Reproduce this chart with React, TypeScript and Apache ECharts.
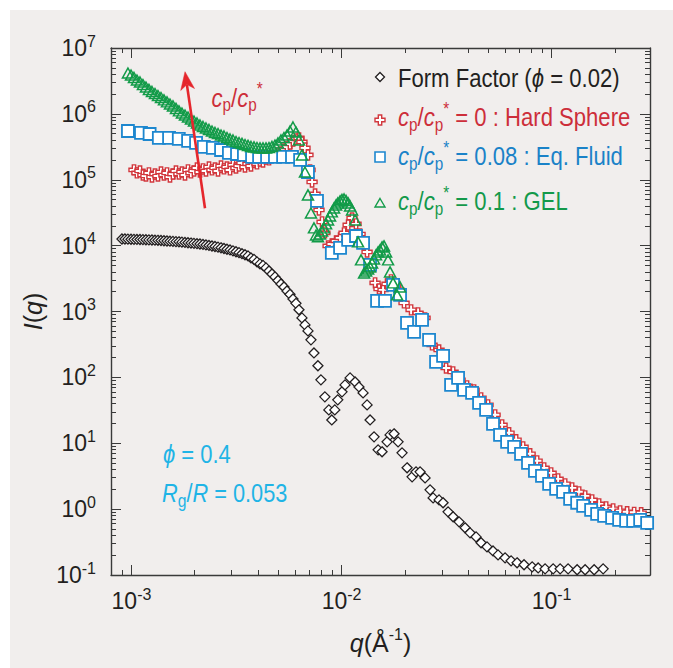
import { useEffect, useRef } from "react";
import * as echarts from "echarts";

// ---- data: [q (1/Å), I(q)] ----
const formFactor: [number, number][] = [
  [9.01e-4, 12600], [9.31e-4, 12600], [9.62e-4, 12550], [9.95e-4, 12500], [1.028e-3, 12450], [1.062e-3, 12420],
  [1.098e-3, 12400], [1.134e-3, 12340], [1.172e-3, 12280], [1.211e-3, 12220], [1.252e-3, 12160], [1.294e-3, 12100],
  [1.337e-3, 12040], [1.382e-3, 11950], [1.428e-3, 11860], [1.476e-3, 11770], [1.525e-3, 11680], [1.576e-3, 11590],
  [1.629e-3, 11500], [1.683e-3, 11420], [1.739e-3, 11300], [1.798e-3, 11180], [1.858e-3, 11060], [1.92e-3, 10940],
  [1.984e-3, 10820], [2.051e-3, 10700], [2.119e-3, 10600], [2.19e-3, 10420], [2.263e-3, 10240], [2.339e-3, 10060],
  [2.417e-3, 9880], [2.498e-3, 9700], [2.582e-3, 9480], [2.668e-3, 9260], [2.757e-3, 9040], [2.849e-3, 8820],
  [2.945e-3, 8600], [3.043e-3, 8330], [3.145e-3, 8080], [3.25e-3, 7820], [3.358e-3, 7540], [3.471e-3, 7260],
  [3.587e-3, 6980], [3.706e-3, 6500], [3.83e-3, 6180], [3.958e-3, 5660], [4.091e-3, 5280], [4.227e-3, 5010],
  [4.369e-3, 4590], [4.515e-3, 4130], [4.665e-3, 3720], [4.821e-3, 3350], [4.982e-3, 2960], [5.149e-3, 2620],
  [5.321e-3, 2360], [5.498e-3, 2050], [5.682e-3, 1820], [5.872e-3, 1550], [6.068e-3, 1330], [6.271e-3, 1060],
  [6.48e-3, 800], [6.697e-3, 626], [6.921e-3, 508], [7.152e-3, 371], [7.391e-3, 235], [7.719e-3, 150],
  [7.977e-3, 91.7], [8.331e-3, 50.6], [8.7e-3, 32.1], [8.987e-3, 22.6], [9.287e-3, 32.1], [9.597e-3, 45.6],
  [1.005e-2, 60.3], [1.039e-2, 76.9], [1.098e-2, 98.2], [1.16e-2, 85.3], [1.211e-2, 71.6], [1.266e-2, 58.1],
  [1.323e-2, 38.2], [1.367e-2, 22.6], [1.428e-2, 12.5], [1.493e-2, 7.94], [1.559e-2, 7.41], [1.647e-2, 10.5],
  [1.702e-2, 13.4], [1.778e-2, 13.9], [1.858e-2, 10.5], [1.941e-2, 7.15], [2.051e-2, 4.24], [2.167e-2, 3.09],
  [2.263e-2, 3.68], [2.365e-2, 3.68], [2.498e-2, 2.98], [2.639e-2, 1.96], [2.728e-2, 1.48], [2.912e-2, 1.38],
  [3.043e-2, 1.25], [3.215e-2, 0.909], [3.397e-2, 0.764], [3.627e-2, 0.641], [3.873e-2, 0.52], [4.091e-2, 0.436],
  [4.369e-2, 0.379], [4.615e-2, 0.308], [4.927e-2, 0.267], [5.261e-2, 0.232], [5.559e-2, 0.202], [6.005e-2, 0.182],
  [6.414e-2, 0.164], [6.848e-2, 0.153], [7.391e-2, 0.143], [8.081e-2, 0.133], [8.627e-2, 0.128], [9.31e-2, 0.124],
  [0.1017, 0.124], [0.1098, 0.124], [0.1198, 0.124], [0.1323, 0.12], [0.1444, 0.12], [0.1594, 0.12], [0.1759, 0.124],
];

const hardSphere: [number, number][] = [
  [1.028e-3, 1.41e5], [1.062e-3, 1.27e5], [1.098e-3, 1.36e5], [1.134e-3, 1.18e5], [1.172e-3, 1.14e5], [1.211e-3, 1.27e5],
  [1.252e-3, 1.1e5], [1.294e-3, 1.22e5], [1.337e-3, 1.14e5], [1.382e-3, 1.31e5], [1.428e-3, 1.18e5], [1.476e-3, 1.27e5],
  [1.525e-3, 1.1e5], [1.576e-3, 1.22e5], [1.629e-3, 1.36e5], [1.683e-3, 1.22e5], [1.739e-3, 1.31e5], [1.798e-3, 1.18e5],
  [1.858e-3, 1.41e5], [1.92e-3, 1.27e5], [1.984e-3, 1.36e5], [2.051e-3, 1.51e5], [2.119e-3, 1.31e5], [2.19e-3, 1.46e5],
  [2.263e-3, 1.36e5], [2.339e-3, 1.56e5], [2.417e-3, 1.41e5], [2.498e-3, 1.51e5], [2.582e-3, 1.36e5], [2.668e-3, 1.62e5],
  [2.757e-3, 1.46e5], [2.849e-3, 1.56e5], [2.945e-3, 1.41e5], [3.043e-3, 1.68e5], [3.145e-3, 1.51e5], [3.25e-3, 1.62e5],
  [3.358e-3, 1.8e5], [3.471e-3, 1.56e5], [3.587e-3, 1.74e5], [3.706e-3, 1.62e5], [3.83e-3, 1.86e5], [3.958e-3, 1.74e5],
  [4.091e-3, 1.93e5], [4.227e-3, 1.86e5], [4.369e-3, 2.07e5], [4.515e-3, 2.0e5], [4.665e-3, 2.22e5], [4.821e-3, 2.3e5],
  [4.982e-3, 2.55e5], [5.149e-3, 2.64e5], [5.321e-3, 2.93e5], [5.498e-3, 3.15e5], [5.682e-3, 3.49e5], [5.872e-3, 3.88e5],
  [6.068e-3, 4.16e5], [6.271e-3, 4.31e5], [6.48e-3, 3.75e5], [6.7e-3, 3.04e5], [6.92e-3, 2.38e5], [7.08e-3, 1.41e5],
  [7.24e-3, 9.26e4], [7.48e-3, 6.09e4], [7.81e-3, 3.48e4], [8.08e-3, 2.29e4], [8.33e-3, 1.56e4], [8.63e-3, 9.9e3],
  [8.99e-3, 1.06e4], [9.42e-3, 1.18e4], [9.84e-3, 1.31e4], [1.028e-2, 1.56e4], [1.075e-2, 2.06e4], [1.122e-2, 2.63e4],
  [1.172e-2, 2.14e4], [1.225e-2, 1.5e4], [1.28e-2, 1.02e4], [1.323e-2, 8.02e3], [1.382e-2, 4.59e3], [1.444e-2, 2.72e3],
  [1.508e-2, 2.2e3], [1.576e-2, 2.13e3], [1.647e-2, 2.62e3], [1.72e-2, 3.02e3], [1.798e-2, 2.53e3], [1.879e-2, 2.13e3],
  [1.984e-2, 1350], [2.143e-2, 1060], [2.314e-2, 952], [2.498e-2, 800], [2.698e-2, 311], [2.912e-2, 261],
  [3.145e-2, 139], [3.397e-2, 121], [3.667e-2, 91.6], [3.958e-2, 74.3], [4.275e-2, 64.6], [4.615e-2, 48.9],
  [4.982e-2, 38.2], [5.382e-2, 27.0], [5.811e-2, 19.0], [6.271e-2, 14.4], [6.776e-2, 11.3], [7.316e-2, 8.82],
  [7.9e-2, 6.91], [8.531e-2, 5.41], [9.211e-2, 4.23], [9.946e-2, 3.55], [0.1074, 2.88], [0.116, 2.42],
  [0.1252, 2.1], [0.1352, 1.83], [0.1444, 1.59], [0.1559, 1.38], [0.1683, 1.2], [0.1818, 1.08],
  [0.1963, 1.01], [0.2119, 0.942], [0.2288, 0.91], [0.2471, 0.894], [0.2668, 0.879],
];

const eqFluid: [number, number][] = [
  [9.62e-4, 5.5e5], [1.11e-3, 5.13e5], [1.22e-3, 4.95e5], [1.35e-3, 4.31e5], [1.51e-3, 4.31e5], [1.68e-3, 4.16e5],
  [1.86e-3, 3.88e5], [2.03e-3, 3.62e5], [2.21e-3, 3.15e5], [2.44e-3, 3.04e5], [2.67e-3, 2.83e5], [2.91e-3, 2.55e5],
  [3.18e-3, 2.46e5], [3.43e-3, 2.38e5], [3.75e-3, 2.22e5], [4.05e-3, 2.22e5], [4.42e-3, 2.22e5], [4.82e-3, 2.22e5],
  [5.27e-3, 2.22e5], [5.81e-3, 2.22e5], [6.35e-3, 2.0e5], [6.92e-3, 1.31e5], [7.64e-3, 4.77e4], [8.99e-3, 7.75e3],
  [9.84e-3, 9.23e3], [1.075e-2, 1.22e4], [1.172e-2, 1.4e4], [1.266e-2, 1.1e4], [1.367e-2, 5.09e3], [1.476e-2, 1.45e3],
  [1.611e-2, 1.45e3], [1.759e-2, 2.53e3], [1.899e-2, 1.79e3], [2.05e-2, 671], [2.214e-2, 490], [2.417e-2, 746],
  [2.61e-2, 371], [2.818e-2, 172], [3.043e-2, 212], [3.322e-2, 76.9], [3.587e-2, 98.3], [3.83e-2, 64.6],
  [4.182e-2, 58.2], [4.515e-2, 41.0], [4.876e-2, 32.1], [5.261e-2, 19.7], [5.682e-2, 13.4], [6.139e-2, 10.5],
  [6.629e-2, 8.82], [7.152e-2, 6.91], [7.72e-2, 5.04], [8.331e-2, 3.81], [9.0e-2, 3.2], [9.73e-2, 2.42],
  [0.1051, 2.03], [0.1134, 1.83], [0.1225, 1.43], [0.1323, 1.25], [0.1413, 1.12], [0.1542, 0.976],
  [0.1647, 0.849], [0.1778, 0.791], [0.1941, 0.738], [0.2096, 0.688], [0.2263, 0.665], [0.2444, 0.665],
  [0.2639, 0.688], [0.2849, 0.62],
];

const gel: [number, number][] = [
  [9.62e-4, 4.17e6], [9.95e-4, 3.89e6], [1.028e-3, 3.57e6], [1.062e-3, 3.27e6], [1.098e-3, 3.05e6], [1.134e-3, 2.79e6],
  [1.172e-3, 2.56e6], [1.211e-3, 2.35e6], [1.252e-3, 2.19e6], [1.294e-3, 2.04e6], [1.337e-3, 1.9e6], [1.382e-3, 1.77e6],
  [1.428e-3, 1.63e6], [1.476e-3, 1.52e6], [1.525e-3, 1.41e6], [1.576e-3, 1.32e6], [1.629e-3, 1.21e6], [1.683e-3, 1.11e6],
  [1.739e-3, 1.03e6], [1.798e-3, 9.62e5], [1.858e-3, 8.97e5], [1.92e-3, 8.37e5], [1.984e-3, 7.8e5], [2.051e-3, 7.28e5],
  [2.119e-3, 6.79e5], [2.19e-3, 6.44e5], [2.263e-3, 6.11e5], [2.339e-3, 5.8e5], [2.417e-3, 5.5e5], [2.498e-3, 5.22e5],
  [2.582e-3, 5.04e5], [2.668e-3, 4.78e5], [2.757e-3, 4.62e5], [2.849e-3, 4.38e5], [2.945e-3, 4.16e5], [3.043e-3, 4.02e5],
  [3.145e-3, 3.81e5], [3.25e-3, 3.68e5], [3.358e-3, 3.56e5], [3.471e-3, 3.43e5], [3.587e-3, 3.32e5], [3.706e-3, 3.2e5],
  [3.83e-3, 3.15e5], [3.958e-3, 3.09e5], [4.091e-3, 3.04e5], [4.227e-3, 3.04e5], [4.369e-3, 3.04e5], [4.515e-3, 3.09e5],
  [4.665e-3, 3.2e5], [4.821e-3, 3.37e5], [4.982e-3, 3.62e5], [5.149e-3, 4.02e5], [5.321e-3, 4.38e5], [5.498e-3, 4.78e5],
  [5.682e-3, 5.5e5], [5.872e-3, 6.33e5], [6.068e-3, 5.31e5], [6.271e-3, 4.02e5], [6.48e-3, 2.38e5], [6.697e-3, 1.31e5],
  [6.921e-3, 5.88e4], [7.152e-3, 3.13e4], [7.391e-3, 1.86e4], [7.56e-3, 1.45e4], [7.72e-3, 1.36e4], [7.9e-3, 1.5e4],
  [8.075e-3, 1.67e4], [8.254e-3, 1.86e4], [8.44e-3, 2.14e4], [8.625e-3, 2.45e4], [8.816e-3, 2.82e4], [8.99e-3, 3.25e4],
  [9.211e-3, 3.73e4], [9.416e-3, 4.15e4], [9.6e-3, 4.45e4], [9.837e-3, 4.77e4], [1.005e-2, 5.02e4], [1.028e-2, 5.11e4],
  [1.051e-2, 4.85e4], [1.075e-2, 4.45e4], [1.098e-2, 4.0e4], [1.122e-2, 3.48e4], [1.16e-2, 2.45e4], [1.198e-2, 1.14e4],
  [1.238e-2, 6.07e3], [1.28e-2, 3.85e3], [1.309e-2, 4.13e3], [1.338e-2, 4.43e3], [1.367e-2, 4.75e3], [1.397e-2, 5.46e3],
  [1.428e-2, 6.28e3], [1.459e-2, 7.23e3], [1.493e-2, 8.02e3], [1.525e-2, 8.6e3], [1.559e-2, 9.56e3], [1.593e-2, 9.9e3],
  [1.629e-2, 8.02e3], [1.665e-2, 6.07e3], [1.702e-2, 3.99e3], [1.759e-2, 2.72e3], [1.838e-2, 1.79e3], [1.899e-2, 2.36e3],
];

// tick label exponents (decades)
const xDecades = [-3, -2, -1];
const yDecades = [-1, 0, 1, 2, 3, 4, 5, 6, 7];
// axis extents in q and I
const qRange = [7.99e-4, 0.294];
const iRange = [0.1, 1e7];

const legendTexts = [
  "{t|Form Factor (}{i|ϕ}{t| = 0.02)}",
  "{i|c}{sub|p}{t|/}{i|c}{sub|p}{sup|*}{t| = 0 : Hard Sphere}",
  "{i|c}{sub|p}{t|/}{i|c}{sub|p}{sup|*}{t| = 0.08 : Eq. Fluid}",
  "{i|c}{sub|p}{t|/}{i|c}{sub|p}{sup|*}{t| = 0.1 : GEL}",
];

const FONT = "'Liberation Sans', Arial, sans-serif";
const INK = "#231f20";
const AXIS = "#3a3a3a";
const RED = "#d2373d";
const RED_TXT = "#cd2e3a";
const BLUE = "#1d87cf";
const BLUE_TXT = "#1a82c8";
const GREEN = "#129b48";
const GREEN_TXT = "#13994a";
const CYAN = "#1fb4e6";
const ARROW = "#e5262c";
const PANEL = "#f1eeed";
const CROSS = "path://M3,0H6V3H9V6H6V9H3V6H0V3H3Z";

const lg = Math.log10;
const toLog = (d: [number, number][]) => d.map(([q, I]) => [lg(q), lg(I)]);

function minorTicks(lo: number, hi: number) {
  const out: number[] = [];
  for (let n = Math.floor(lo) - 1; n <= Math.ceil(hi); n++) {
    for (let k = 2; k <= 9; k++) {
      const v = n + lg(k);
      if (v > lo && v < hi) out.push(v);
    }
  }
  return out;
}

function buildOption() {
  const xMin = lg(qRange[0]);
  const xMax = lg(qRange[1]);
  const yMin = lg(iRange[0]);
  const yMax = lg(iRange[1]);
  const xMinor = minorTicks(xMin, xMax);
  const yMinor = minorTicks(yMin, yMax);

  const tickLine = { color: AXIS, width: 1 };
  const labelRich = {
    b: { fontSize: 23, fontFamily: FONT, color: INK, lineHeight: 30 },
    s: { fontSize: 16, fontFamily: FONT, color: INK, lineHeight: 20, verticalAlign: "top" },
  };
  const powFmt = (v: number) => `{b|10}{s|${Math.round(v)}}`;
  const nameRich = {
    i: { fontSize: 25, fontFamily: FONT, fontStyle: "italic", color: INK, lineHeight: 34 },
    n: { fontSize: 25, fontFamily: FONT, color: INK, lineHeight: 34 },
    s: { fontSize: 16, fontFamily: FONT, color: INK, lineHeight: 22, verticalAlign: "top" },
  };

  const baseX = {
    type: "value",
    min: xMin,
    max: xMax,
    splitLine: { show: false },
    axisLine: { onZero: false, lineStyle: { color: AXIS, width: 1.4 } },
  };
  const baseY = {
    type: "value",
    min: yMin,
    max: yMax,
    splitLine: { show: false },
    axisLine: { onZero: false, lineStyle: { color: AXIS, width: 1.4 } },
  };

  const txtRich = (fill: string, size: number) => ({
    t: { fontSize: size, fontFamily: FONT, fill, lineHeight: 34 },
    i: { fontSize: size, fontFamily: FONT, fontStyle: "italic", fill, lineHeight: 34 },
    sub: { fontSize: 18, fontFamily: FONT, fill, lineHeight: 21, verticalAlign: "bottom" },
    sup: { fontSize: 18, fontFamily: FONT, fill, lineHeight: 18, verticalAlign: "top" },
  });

  const legendColors = [INK, RED_TXT, BLUE_TXT, GREEN_TXT];
  const baselines = [86.7, 126, 165, 210];
  const legendText = legendTexts.map((text, i) => ({
    type: "text",
    x: 398,
    y: baselines[i] - 26,
    scaleX: 0.85,
    style: { text, rich: txtRich(legendColors[i], 26), fill: legendColors[i], verticalAlign: "top", align: "left" },
    z: 20,
  }));

  const sx = 380;
  const legendSymbols = [
    {
      type: "polygon",
      shape: { points: [[sx, 72.5], [sx + 4.5, 77], [sx, 81.5], [sx - 4.5, 77]] },
      style: { fill: "#fff", stroke: INK, lineWidth: 1.3 },
      z: 20,
    },
    {
      type: "polygon",
      shape: {
        points: [
          [sx - 1.7, 115], [sx + 1.7, 115], [sx + 1.7, 118.3], [sx + 5, 118.3], [sx + 5, 121.7], [sx + 1.7, 121.7],
          [sx + 1.7, 125], [sx - 1.7, 125], [sx - 1.7, 121.7], [sx - 5, 121.7], [sx - 5, 118.3], [sx - 1.7, 118.3],
        ],
      },
      style: { fill: "#fff", stroke: RED, lineWidth: 1.4 },
      z: 20,
    },
    {
      type: "rect",
      shape: { x: sx - 5, y: 152, width: 10, height: 10 },
      style: { fill: "#fff", stroke: BLUE, lineWidth: 1.6 },
      z: 20,
    },
    {
      type: "polygon",
      shape: { points: [[sx, 198.5], [sx + 5, 207], [sx - 5, 207]] },
      style: { fill: "none", stroke: GREEN, lineWidth: 1.4 },
      z: 20,
    },
  ];

  const annotations = [
    {
      type: "text",
      x: 211.5,
      y: 106.5 - 26,
      scaleX: 0.85,
      style: { text: "{i|c}{sub|p}{t|/}{i|c}{sub|p}{sup|*}", rich: txtRich(RED_TXT, 26), fill: RED_TXT, verticalAlign: "top" },
      z: 20,
    },
    {
      type: "text",
      x: 163,
      y: 463 - 25.7,
      scaleX: 0.88,
      style: { text: "{i|ϕ}{t| = 0.4}", rich: txtRich(CYAN, 25), fill: CYAN, verticalAlign: "top" },
      z: 20,
    },
    {
      type: "text",
      x: 162,
      y: 502 - 25.7,
      scaleX: 0.87,
      style: { text: "{i|R}{sub|g}{t|/}{i|R}{t| = 0.053}", rich: txtRich(CYAN, 25), fill: CYAN, verticalAlign: "top" },
      z: 20,
    },
    {
      type: "line",
      shape: { x1: 205, y1: 208.3, x2: 186.9, y2: 84.6 },
      style: { stroke: ARROW, lineWidth: 2.6 },
      z: 20,
    },
    {
      type: "polygon",
      shape: { points: [[185, 71.7], [194.5, 88.5], [186.9, 84.6], [180.7, 90.5]] },
      style: { fill: ARROW, stroke: ARROW, lineWidth: 0.5 },
      z: 20,
    },
  ];

  return {
    animation: false,
    backgroundColor: PANEL,
    grid: { left: 111, right: 23, top: 48, bottom: 93, containLabel: false },
    xAxis: [
      {
        ...baseX,
        position: "bottom",
        axisTick: { inside: true, length: 10, customValues: xDecades, lineStyle: tickLine },
        axisLabel: { customValues: xDecades, formatter: powFmt, rich: labelRich, margin: 11 },
        name: "{i|q}{n|(Å}{s|-1}{n|)}",
        nameLocation: "middle",
        nameGap: 51,
        nameTextStyle: { rich: nameRich },
      },
      {
        ...baseX,
        position: "bottom",
        axisLine: { show: false, onZero: false },
        axisTick: { inside: true, length: 5, customValues: xMinor, lineStyle: tickLine },
        axisLabel: { show: false },
      },
      {
        ...baseX,
        position: "top",
        axisTick: { inside: true, length: 10, customValues: xDecades, lineStyle: tickLine },
        axisLabel: { show: false },
      },
      {
        ...baseX,
        position: "top",
        axisLine: { show: false, onZero: false },
        axisTick: { inside: true, length: 5, customValues: xMinor, lineStyle: tickLine },
        axisLabel: { show: false },
      },
    ],
    yAxis: [
      {
        ...baseY,
        position: "left",
        axisTick: { inside: true, length: 10, customValues: yDecades, lineStyle: tickLine },
        axisLabel: { customValues: yDecades, formatter: powFmt, rich: labelRich, margin: 15 },
        name: "{i|I}{n|(}{i|q}{n|)}",
        nameLocation: "middle",
        nameRotate: 90,
        nameGap: 61,
        nameTextStyle: { rich: nameRich },
      },
      {
        ...baseY,
        position: "left",
        axisLine: { show: false, onZero: false },
        axisTick: { inside: true, length: 5, customValues: yMinor, lineStyle: tickLine },
        axisLabel: { show: false },
      },
      {
        ...baseY,
        position: "right",
        axisTick: { inside: true, length: 10, customValues: yDecades, lineStyle: tickLine },
        axisLabel: { show: false },
      },
      {
        ...baseY,
        position: "right",
        axisLine: { show: false, onZero: false },
        axisTick: { inside: true, length: 5, customValues: yMinor, lineStyle: tickLine },
        axisLabel: { show: false },
      },
    ],
    series: [
      {
        type: "scatter",
        name: "Form Factor",
        data: toLog(formFactor),
        symbol: "diamond",
        symbolSize: [10, 10],
        itemStyle: { color: "#ffffff", borderColor: INK, borderWidth: 1.3, opacity: 1 },
        z: 3,
      },
      {
        type: "scatter",
        name: "Hard Sphere",
        data: toLog(hardSphere),
        symbol: CROSS,
        symbolSize: 10,
        symbolKeepAspect: true,
        itemStyle: { color: "#ffffff", borderColor: RED, borderWidth: 1.4, opacity: 1 },
        z: 4,
      },
      {
        type: "scatter",
        name: "Eq. Fluid",
        data: toLog(eqFluid),
        symbol: "rect",
        symbolSize: 12,
        itemStyle: { color: "#ffffff", borderColor: BLUE, borderWidth: 1.8, opacity: 1 },
        z: 5,
      },
      {
        type: "scatter",
        name: "GEL",
        data: toLog(gel),
        symbol: "triangle",
        symbolSize: [11, 10],
        itemStyle: { color: "rgba(255,255,255,0)", borderColor: GREEN, borderWidth: 1.5, opacity: 1 },
        z: 6,
      },
    ],
    graphic: [
      { type: "rect", shape: { x: 0, y: 0, width: 673, height: 10 }, style: { fill: "#ffffff" }, z: 0 },
      { type: "rect", shape: { x: 0, y: 0, width: 10, height: 668 }, style: { fill: "#ffffff" }, z: 0 },
      ...legendSymbols,
      ...legendText,
      ...annotations,
    ],
  };
}

export default function App() {
  const ref = useRef<HTMLDivElement>(null);
  useEffect(() => {
    if (!ref.current) return;
    const chart = echarts.init(ref.current, undefined, { renderer: "svg" });
    chart.setOption(buildOption() as any);
    return () => chart.dispose();
  }, []);
  return <div ref={ref} style={{ position: "fixed", left: 0, top: 0, width: 673, height: 668 }} />;
}
